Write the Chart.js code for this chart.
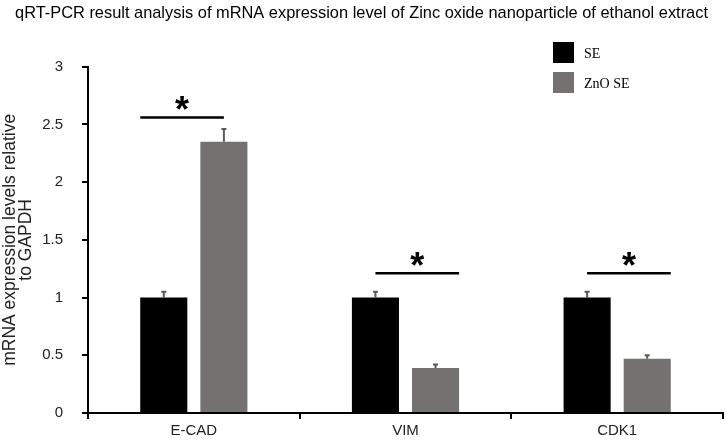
<!DOCTYPE html>
<html>
<head>
<meta charset="utf-8">
<script src="https://cdn.jsdelivr.net/npm/chart.js@4.4.0/dist/chart.umd.min.js"></script>
<style>
  html, body { margin: 0; padding: 0; background: #fff; overflow: hidden; }
  canvas { display: block; }
</style>
</head>
<body>
<canvas id="qpcrChart" width="725" height="441"></canvas>
<script>
const categories = ["E-CAD", "VIM", "CDK1"];
const seValues = [1.0, 1.0, 1.0];
const seErrors = [0.05, 0.05, 0.05];
const znoValues = [2.35, 0.39, 0.47];
const znoErrors = [0.11, 0.03, 0.03];
// height of the significance line above each category
const sigLevels = [2.56, 1.21, 1.21];
const yMax = 3;
const yStep = 0.5;

const errorBars = {
  id: "errorBars",
  afterDatasetsDraw(chart) {
    const ctx = chart.ctx;
    const y = chart.scales.y;
    const errs = [seErrors, znoErrors];
    ctx.save();
    ctx.strokeStyle = "#595959";
    chart.data.datasets.forEach((ds, di) => {
      chart.getDatasetMeta(di).data.forEach((bar, i) => {
        const top = y.getPixelForValue(ds.data[i] + errs[di][i]);
        ctx.lineWidth = 2;
        ctx.beginPath();
        ctx.moveTo(bar.x, bar.y);
        ctx.lineTo(bar.x, top);
        ctx.stroke();
        ctx.beginPath();
        ctx.moveTo(bar.x - 2.5, top);
        ctx.lineTo(bar.x + 2.5, top);
        ctx.stroke();
      });
    });
    ctx.restore();
  }
};

const significance = {
  id: "significance",
  afterDatasetsDraw(chart) {
    const ctx = chart.ctx;
    const y = chart.scales.y;
    const se = chart.getDatasetMeta(0).data;
    const zno = chart.getDatasetMeta(1).data;
    ctx.save();
    sigLevels.forEach((lvl, i) => {
      const w = se[i].width;
      let x1, x2;
      if (i === 0) { x1 = se[i].x - w / 2; x2 = zno[i].x; }
      else { x1 = se[i].x; x2 = zno[i].x + w / 2; }
      const py = y.getPixelForValue(lvl);
      ctx.strokeStyle = "#000";
      ctx.lineWidth = 2.5;
      ctx.beginPath();
      ctx.moveTo(x1, py);
      ctx.lineTo(x2, py);
      ctx.stroke();
      ctx.fillStyle = "#000";
      ctx.font = "bold 36px Arial, 'Liberation Sans'";
      ctx.textAlign = "center";
      ctx.textBaseline = "alphabetic";
      const m = ctx.measureText("*");
      const cy = py - 14;
      ctx.fillText("*", (x1 + x2) / 2, cy + (m.actualBoundingBoxAscent - m.actualBoundingBoxDescent) / 2);
    });
    ctx.restore();
  }
};

const boxLegend = {
  id: "boxLegend",
  afterDraw(chart) {
    const ctx = chart.ctx;
    ctx.save();
    ctx.font = "14px 'Liberation Serif', 'Times New Roman', serif";
    ctx.textBaseline = "middle";
    ctx.textAlign = "left";
    chart.data.datasets.forEach((ds, i) => {
      const top = 42 + i * 30;
      ctx.fillStyle = ds.backgroundColor;
      ctx.fillRect(553, top, 21, 21);
      ctx.fillStyle = "#000";
      ctx.fillText(ds.label, 584, top + 12);
    });
    ctx.restore();
  }
};

new Chart(document.getElementById("qpcrChart"), {
  type: "bar",
  data: {
    labels: categories,
    datasets: [
      { label: "SE", data: seValues, backgroundColor: "#000000" },
      { label: "ZnO SE", data: znoValues, backgroundColor: "#767171" }
    ]
  },
  options: {
    responsive: false,
    animation: false,
    categoryPercentage: 0.568,
    barPercentage: 0.783,
    layout: { padding: { top: 0, right: 2, left: 0, bottom: 0 } },
    plugins: {
      legend: { display: false },
      tooltip: { enabled: false },
      title: {
        display: true,
        text: "qRT-PCR result analysis of mRNA expression level of Zinc oxide nanoparticle of ethanol extract",
        color: "#000",
        font: { family: "Arial, 'Liberation Sans'", size: 16.4, weight: "normal" },
        padding: { top: 4, bottom: 43 }
      }
    },
    scales: {
      x: {
        afterFit(s) { s.height = 27; },
        border: { display: true, color: "#000", width: 2 },
        grid: { drawOnChartArea: false, drawTicks: true, tickLength: 6, color: "#000", lineWidth: 2 },
        ticks: { color: "#222", padding: 3, font: { family: "Arial, 'Liberation Sans'", size: 15 } }
      },
      y: {
        min: 0,
        max: yMax,
        afterFit(s) { s.width = 88; },
        border: { display: true, color: "#000", width: 2 },
        grid: { drawOnChartArea: false, drawTicks: true, tickLength: 6, color: "#000", lineWidth: 2 },
        ticks: {
          stepSize: yStep,
          color: "#222",
          padding: 19,
          font: { family: "Arial, 'Liberation Sans'", size: 15 },
          callback: (v) => String(v)
        },
        title: {
          display: true,
          text: ["mRNA expression levels relative", "to GAPDH"],
          color: "#222",
          font: { family: "Arial, 'Liberation Sans'", size: 17.5, lineHeight: 0.92 },
          padding: { top: 2, bottom: 0 }
        }
      }
    }
  },
  plugins: [errorBars, significance, boxLegend]
});
</script>
</body>
</html>
